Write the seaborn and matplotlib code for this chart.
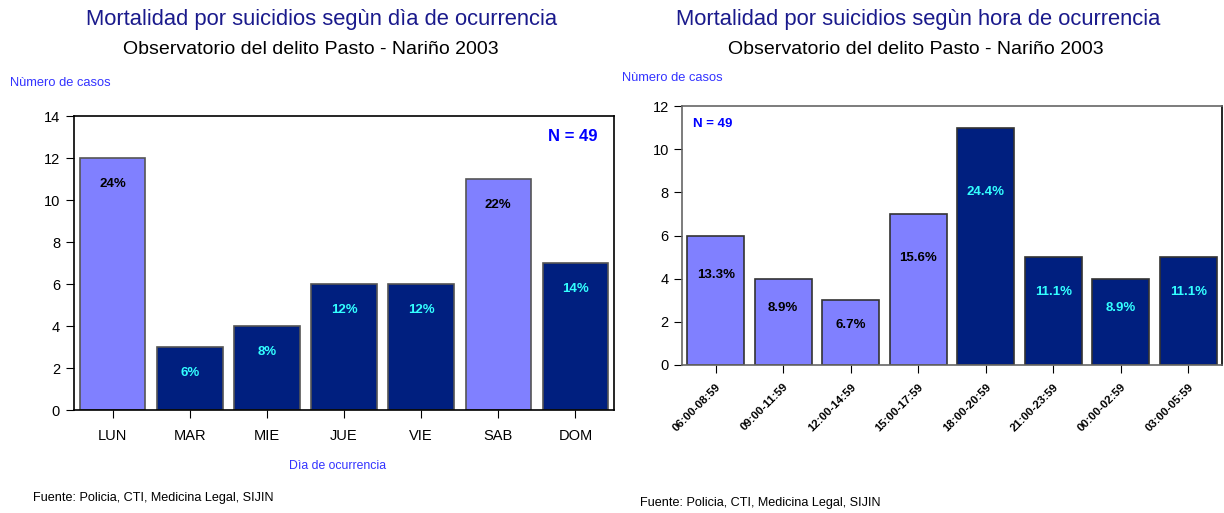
import seaborn as sns
import matplotlib.pyplot as plt
import numpy as np

dias = ['LUN', 'MAR', 'MIE', 'JUE', 'VIE', 'SAB', 'DOM']
casos_dia = [12, 3, 4, 6, 6, 11, 7]
pct_dia = ['24%', '6%', '8%', '12%', '12%', '22%', '14%']

horas = ['06:00-08:59', '09:00-11:59', '12:00-14:59', '15:00-17:59',
         '18:00-20:59', '21:00-23:59', '00:00-02:59', '03:00-05:59']
casos_hora = [6, 4, 3, 7, 11, 5, 4, 5]
pct_hora = ['13.3%', '8.9%', '6.7%', '15.6%', '24.4%', '11.1%', '8.9%', '11.1%']

LIGHT = '#8080FF'
DARK = '#001F7F'
fam = ['Liberation Sans', 'DejaVu Sans']

sns.set_style('ticks')
plt.rcParams['font.family'] = fam

fig = plt.figure(figsize=(12.24, 5.13), dpi=100)
ax1 = fig.add_axes([74/1224, 1-410/513, 540/1224, 294/513])
ax2 = fig.add_axes([682/1224, 1-365/513, 540/1224, 259/513])

# dia de la semana
col_dia = [LIGHT if d in ('LUN', 'SAB') else DARK for d in dias]
sns.barplot(x=dias, y=casos_dia, hue=dias, palette=col_dia, legend=False,
            width=0.85, edgecolor='#555555', linewidth=1.2, saturation=1, ax=ax1)
ax1.set_ylim(0, 14)
ax1.set_yticks(range(0, 15, 2))
ax1.set_xlim(-0.5, 6.5)
for i, (v, p) in enumerate(zip(casos_dia, pct_dia)):
    c = 'black' if col_dia[i] == LIGHT else '#33FFFF'
    ax1.text(i, v - 1.25, p, ha='center', va='center', fontsize=9.5,
             fontweight='bold', color=c)
ax1.text(0.97, 0.93, 'N = 49', transform=ax1.transAxes, ha='right', va='center',
         fontsize=12, fontweight='bold', color='#0000FF')
ax1.tick_params(direction='out', length=6, labelsize=10.5, pad=8,
                colors='black')
ax1.tick_params(axis='y', pad=4)

# hora del dia
col_hora = [LIGHT] * 4 + [DARK] * 4
sns.barplot(x=horas, y=casos_hora, hue=horas, palette=col_hora, legend=False,
            width=0.84, edgecolor='#333333', linewidth=1.2, saturation=1, ax=ax2)
ax2.set_ylim(0, 12)
ax2.set_yticks(range(0, 13, 2))
ax2.set_xlim(-0.5, 7.5)
for i, (v, p) in enumerate(zip(casos_hora, pct_hora)):
    c = 'black' if col_hora[i] == LIGHT else '#33FFFF'
    ax2.text(i, v * 0.77 - 0.45, p, ha='center', va='center', fontsize=9.5,
             fontweight='bold', color=c)
ax2.text(0.02, 0.93, 'N = 49', transform=ax2.transAxes, ha='left', va='center',
         fontsize=9.5, fontweight='bold', color='#0000FF')
ax2.tick_params(direction='out', length=6, labelsize=10.5, colors='black')
ax2.tick_params(axis='x', labelsize=8.2, pad=6)
for lab in ax2.get_xticklabels():
    lab.set_rotation(45)
    lab.set_ha('right')
    lab.set_rotation_mode('anchor')
    lab.set_fontweight('bold')

for ax, sc in ((ax1, 'black'), (ax2, '#666666')):
    ax.set_xlabel('')
    ax.set_ylabel('')
    for s in ax.spines.values():
        s.set_visible(True)
        s.set_color(sc)
        s.set_linewidth(1.2)
    ax.spines['right'].set_color('black')

fig.text(322/1224, 1-20/513, 'Mortalidad por suicidios segùn dìa de ocurrencia',
         ha='center', va='center', fontsize=15.8, color='#1A1A8C')
fig.text(311/1224, 1-50/513, 'Observatorio del delito Pasto - Nariño 2003',
         ha='center', va='center', fontsize=14, color='black')
fig.text(918/1224, 1-20/513, 'Mortalidad por suicidios segùn hora de ocurrencia',
         ha='center', va='center', fontsize=15.8, color='#1A1A8C')
fig.text(916/1224, 1-50/513, 'Observatorio del delito Pasto - Nariño 2003',
         ha='center', va='center', fontsize=14, color='black')
fig.text(10/1224, 1-83/513, 'Nùmero de casos', ha='left', va='center',
         fontsize=9.3, color='#3333FF')
fig.text(622/1224, 1-78/513, 'Nùmero de casos', ha='left', va='center',
         fontsize=9.3, color='#3333FF')
fig.text(338/1224, 1-466/513, 'Dìa de ocurrencia', ha='center', va='center',
         fontsize=8.8, color='#3333FF')
fig.text(33/1224, 1-498/513, 'Fuente: Policia, CTI, Medicina Legal, SIJIN',
         ha='left', va='center', fontsize=9.1, color='black')
fig.text(640/1224, 1-503/513, 'Fuente: Policia, CTI, Medicina Legal, SIJIN',
         ha='left', va='center', fontsize=9.1, color='black')

fig.savefig('out.png', dpi=100)
